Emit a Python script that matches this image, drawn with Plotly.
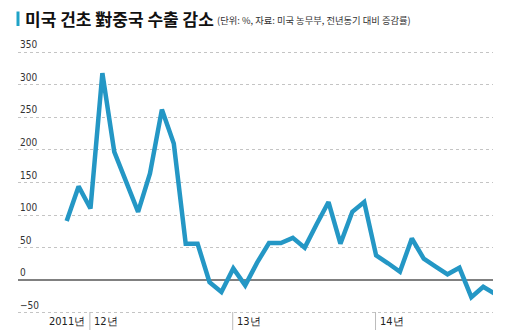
import plotly.graph_objects as go

# Data: monthly YoY change (%) of US hay exports to China, Nov 2011 - Nov 2014
months = list(range(37))
values = [91, 144, 110, 318, 197, 151, 105, 164, 262, 210, 56, 56, -3, -18,
          18, -8, 27, 57, 57, 65, 50, 86, 120, 56, 105, 120,
          38, 26, 13, 64, 33, 21, 9, 19, -26, -10, -21]
ytick_vals = [350, 300, 250, 200, 150, 100, 50, 0, -50]
ytick_text = ["350", "300", "250", "200", "150", "100", "50", "0", "\u221250"]
year_labels = ["2011년", "12년", "13년", "14년"]
year_start_idx = [None, 2, 14, 26]

W, H = 510, 333
ML, MR, MT, MB = 18, 17, 49, 17
XMIN, XMAX = -4.09, 35.82
YMIN, YMAX = -55, 355
LINE_COLOR = "#2497c5"
FONT_NARROW = "Liberation Sans Narrow, Arial Narrow, DejaVu Sans Condensed, sans-serif"
FONT_KR = "Noto Sans CJK KR, Noto Sans, sans-serif"

def px_to_paper_x(px):
    return (px - ML) / (W - ML - MR)

def px_to_paper_y(py):
    return (H - MB - py) / (H - MT - MB)

def data_to_paper_x(v):
    return (v - XMIN) / (XMAX - XMIN)

fig = go.Figure()
fig.add_trace(go.Scatter(
    x=months, y=values, mode="lines",
    line=dict(color=LINE_COLOR, width=4.5),
    cliponaxis=False, hoverinfo="skip", showlegend=False,
))

annotations = []
# y tick labels above gridlines
for v, t in zip(ytick_vals, ytick_text):
    annotations.append(dict(
        x=0, xref="paper", y=v, yref="y", text=t, showarrow=False,
        xanchor="left", yanchor="bottom", yshift=0,
        font=dict(family=FONT_NARROW, size=10, color="#333"),
    ))

# year labels and separators
shapes = []
label_y = px_to_paper_y(321)
for lab, idx in zip(year_labels, year_start_idx):
    if idx is None:
        sep_x = data_to_paper_x(2 - 0.05)
        annotations.append(dict(
            x=sep_x, xref="paper", y=label_y, yref="paper", text=lab,
            showarrow=False, xanchor="right", yanchor="middle", xshift=-3,
            font=dict(family=FONT_NARROW, size=11, color="#222"),
        ))
    else:
        sep_x = data_to_paper_x(idx - 0.05)
        annotations.append(dict(
            x=sep_x, xref="paper", y=label_y, yref="paper", text=lab,
            showarrow=False, xanchor="left", yanchor="middle", xshift=2,
            font=dict(family=FONT_NARROW, size=11, color="#222"),
        ))
        shapes.append(dict(
            type="line", xref="paper", yref="paper",
            x0=sep_x, x1=sep_x, y0=px_to_paper_y(312), y1=px_to_paper_y(330),
            line=dict(color="#bbbbbb", width=1),
        ))

# title bar and title
shapes.append(dict(
    type="rect", xref="paper", yref="paper",
    x0=px_to_paper_x(16.5), x1=px_to_paper_x(19.5),
    y0=px_to_paper_y(26), y1=px_to_paper_y(11.5),
    fillcolor="#1fa3c7", line=dict(width=0),
))
annotations.append(dict(
    x=px_to_paper_x(23), xref="paper", y=px_to_paper_y(18.5), yref="paper",
    text="<b>미국 건초 對중국 수출 감소</b>", showarrow=False,
    xanchor="left", yanchor="middle",
    font=dict(family=FONT_KR, size=17, color="#111"),
))
annotations.append(dict(
    x=px_to_paper_x(215), xref="paper", y=px_to_paper_y(20), yref="paper",
    text="(단위: %, 자료: 미국 농무부, 전년동기 대비 증감률)", showarrow=False,
    xanchor="left", yanchor="middle",
    font=dict(family=FONT_KR, size=9.3, color="#333"),
))

fig.update_layout(
    width=W, height=H,
    margin=dict(l=ML, r=MR, t=MT, b=MB, pad=0),
    paper_bgcolor="white", plot_bgcolor="white",
    xaxis=dict(range=[XMIN, XMAX], showgrid=False, zeroline=False,
               showticklabels=False, ticks="", showline=False, fixedrange=True),
    yaxis=dict(range=[YMIN, YMAX], tickvals=ytick_vals, showticklabels=False,
               showgrid=True, gridcolor="#c4c4c4", griddash="dot", gridwidth=1,
               zeroline=True, zerolinecolor="#808080", zerolinewidth=1.5,
               ticks="", showline=False, fixedrange=True),
    annotations=annotations, shapes=shapes,
)

fig.write_html("out.html")
